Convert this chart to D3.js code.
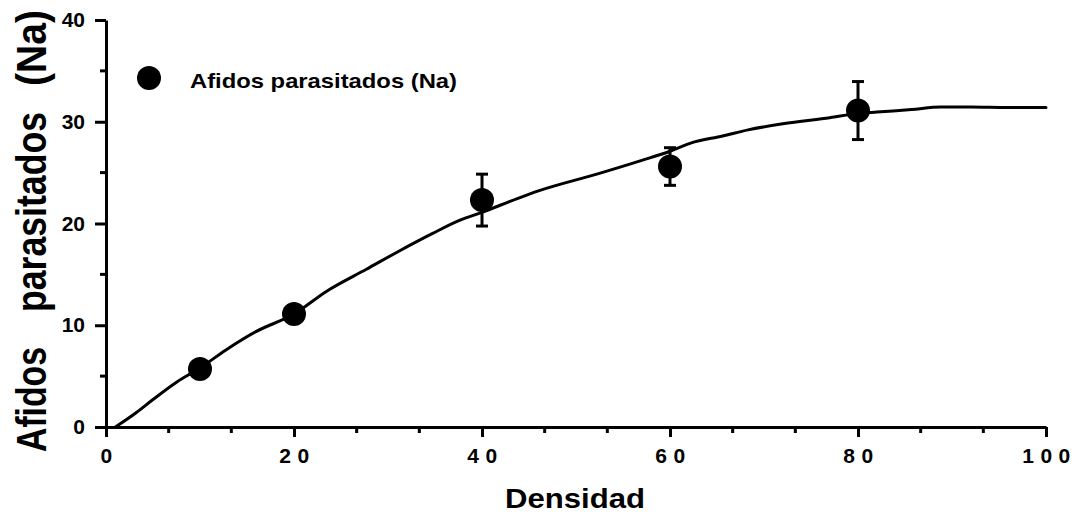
<!DOCTYPE html>
<html>
<head>
<meta charset="utf-8">
<script src="https://cdn.jsdelivr.net/npm/d3@7"></script>
<style>
  html, body { margin: 0; padding: 0; background: #fff; }
  svg { display: block; }
  text { font-family: "Liberation Sans", Arial, Helvetica, sans-serif; font-weight: bold; fill: #000; }
</style>
</head>
<body>
<svg id="chart" width="1078" height="516"></svg>
<script>
// ---- data ----
const density = [10, 20, 40, 60, 80];
const parasitized = [5.7, 11.1, 22.3, 25.6, 31.1];
const errorBars = [0, 0, 2.55, 1.85, 2.85];

const curveX = [1, 3.2, 5, 7.5, 10, 12.8, 16, 20, 23.4, 27.7, 31.2, 34.7, 37.6, 40, 43.9, 46, 52.4, 57, 60, 62.2, 65.6, 68.3, 72, 77, 80, 82, 85.7, 88.8, 92, 96, 100];
const curveY = [0, 1.4, 2.7, 4.4, 5.8, 7.6, 9.4, 11.1, 13.3, 15.5, 17.3, 19.0, 20.3, 21.1, 22.5, 23.2, 24.9, 26.2, 27.1, 27.9, 28.6, 29.2, 29.8, 30.4, 30.8, 30.95, 31.2, 31.45, 31.45, 31.4, 31.4];

const xTickValues = [0, 20, 40, 60, 80, 100];
const xTickLabels = ["0", "20", "40", "60", "80", "100"];
const yTickValues = [0, 10, 20, 30, 40];
const yTickLabels = ["0", "10", "20", "30", "40"];

const legendLabel = "Afidos parasitados (Na)";
const xTitle = "Densidad";
const yTitleWords = ["Afidos", "parasitados", "(Na)"];

// ---- layout ----
const svg = d3.select("#chart");
const x = d3.scaleLinear().domain([0, 100]).range([106, 1046]);
const y = d3.scaleLinear().domain([0, 40]).range([427, 20]);

const axisStroke = 3;

// minor ticks x
const xMinor = d3.range(0, 100.001, 20 / 3).filter(v => !xTickValues.some(t => Math.abs(t - v) < 1e-6));
svg.append("g").selectAll("line").data(xMinor).join("line")
  .attr("x1", d => x(d)).attr("x2", d => x(d))
  .attr("y1", y(0)).attr("y2", y(0) + 6)
  .attr("stroke", "#000").attr("stroke-width", axisStroke);

// minor ticks y
const yMinor = [5, 15, 25, 35];
svg.append("g").selectAll("line").data(yMinor).join("line")
  .attr("x1", x(0)).attr("x2", x(0) - 6)
  .attr("y1", d => y(d)).attr("y2", d => y(d))
  .attr("stroke", "#000").attr("stroke-width", axisStroke);

// x axis
const xAxis = d3.axisBottom(x).tickValues(xTickValues)
  .tickFormat((d, i) => xTickLabels[i]).tickSize(10).tickSizeOuter(0).tickPadding(11);
const gx = svg.append("g").attr("transform", `translate(0,${y(0)})`).call(xAxis);
gx.select(".domain").attr("stroke-width", axisStroke);
gx.selectAll(".tick line").attr("stroke-width", axisStroke);
gx.selectAll(".tick text")
  .attr("font-size", 21).attr("font-family", '"Liberation Sans", Arial, sans-serif')
  .attr("font-weight", "bold").style("letter-spacing", "6.5px")
  .attr("dx", "3px");

// y axis
const yAxis = d3.axisLeft(y).tickValues(yTickValues)
  .tickFormat((d, i) => yTickLabels[i]).tickSize(11).tickSizeOuter(0).tickPadding(10);
const gy = svg.append("g").attr("transform", `translate(${x(0)},0)`).call(yAxis);
gy.select(".domain").attr("stroke-width", axisStroke);
gy.selectAll(".tick line").attr("stroke-width", axisStroke);
gy.selectAll(".tick text")
  .attr("font-size", 21).attr("font-family", '"Liberation Sans", Arial, sans-serif')
  .attr("font-weight", "bold");

// fitted curve
const line = d3.line().x(d => x(d[0])).y(d => y(d[1])).curve(d3.curveMonotoneX);
svg.append("path")
  .datum(curveX.map((v, i) => [v, curveY[i]]))
  .attr("d", line)
  .attr("fill", "none").attr("stroke", "#000").attr("stroke-width", 3)
  .attr("stroke-linejoin", "round").attr("stroke-linecap", "round");

// error bars
const pts = density.map((d, i) => ({ x: d, y: parasitized[i], e: errorBars[i] }));
const eb = svg.append("g").selectAll("g").data(pts.filter(p => p.e > 0)).join("g");
eb.append("line")
  .attr("x1", d => x(d.x)).attr("x2", d => x(d.x))
  .attr("y1", d => y(d.y - d.e)).attr("y2", d => y(d.y + d.e))
  .attr("stroke", "#000").attr("stroke-width", 3);
eb.selectAll("line.cap").data(d => [[d.x, d.y - d.e], [d.x, d.y + d.e]]).join("line")
  .attr("class", "cap")
  .attr("x1", d => x(d[0]) - 6).attr("x2", d => x(d[0]) + 6)
  .attr("y1", d => y(d[1])).attr("y2", d => y(d[1]))
  .attr("stroke", "#000").attr("stroke-width", 3);

// points
svg.append("g").selectAll("circle").data(pts).join("circle")
  .attr("cx", d => x(d.x)).attr("cy", d => y(d.y)).attr("r", 12)
  .attr("fill", "#000");

// legend
svg.append("circle").attr("cx", 149).attr("cy", 78).attr("r", 12).attr("fill", "#000");
svg.append("text").attr("x", 190).attr("y", 88)
  .attr("font-size", 21).attr("textLength", 267).attr("lengthAdjust", "spacingAndGlyphs")
  .text(legendLabel);

// x title
svg.append("text").attr("x", 505).attr("y", 508)
  .attr("font-size", 27).attr("textLength", 140).attr("lengthAdjust", "spacingAndGlyphs")
  .text(xTitle);

// y title (three words, rotated)
const yWordStart = [452, 312, 86];
const yWordLen = [105, 200, 76];
yTitleWords.forEach((w, i) => {
  svg.append("text")
    .attr("transform", `translate(46,${yWordStart[i]}) rotate(-90)`)
    .attr("font-size", 42).attr("textLength", yWordLen[i]).attr("lengthAdjust", "spacingAndGlyphs")
    .text(w);
});
</script>
</body>
</html>
